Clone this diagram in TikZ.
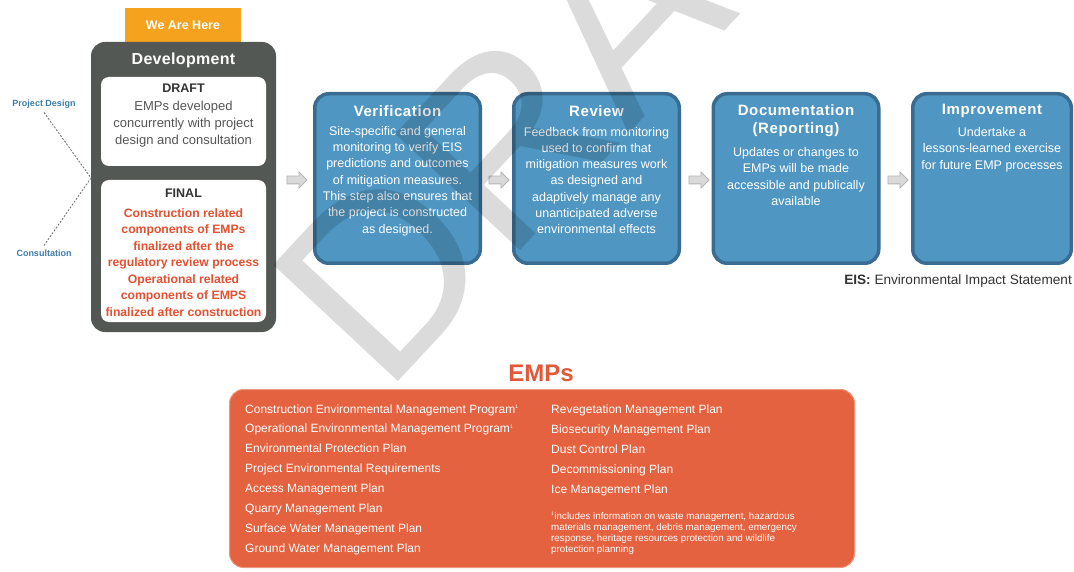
\documentclass[tikz,border=0pt]{standalone}
\usepackage{fontspec}
\setmainfont{Liberation Sans}
\usetikzlibrary{shapes.arrows}
\definecolor{bluefill}{RGB}{79,151,194}
\definecolor{blueline}{RGB}{58,108,145}
\definecolor{devgray}{RGB}{84,88,84}
\definecolor{herebg}{RGB}{245,162,30}
\definecolor{redtext}{RGB}{228,80,48}
\definecolor{coral}{RGB}{229,98,64}
\definecolor{coralline}{RGB}{240,150,125}
\definecolor{empstitle}{RGB}{226,88,56}
\definecolor{labelblue}{RGB}{60,125,170}
\definecolor{darktext}{RGB}{51,51,51}
\definecolor{graytext}{RGB}{85,85,85}
\definecolor{arrowfill}{RGB}{218,218,218}
\definecolor{arrowline}{RGB}{180,180,180}
\definecolor{dashgray}{RGB}{120,120,120}
\tikzset{
  bluebox/.style={draw=blueline, fill=bluefill, line width=3.5pt, rounded corners=14pt,
    minimum width=165.5pt, minimum height=169.5pt, inner sep=0pt},
  whitebox/.style={fill=white, rounded corners=8pt, minimum width=165pt, inner sep=0pt},
  txt/.style={inner sep=0pt, align=center},
  steptitle/.style={txt, text=white, font=\fontsize{15}{18}\selectfont\bfseries\addfontfeature{LetterSpace=4}},
  stepbody/.style={txt, text=white, font=\fontsize{12.5}{16.3}\selectfont},
  arr/.style={single arrow, draw=arrowline, fill=arrowfill, line width=0.9pt,
    minimum height=20pt, single arrow head extend=4pt, inner xsep=0pt, inner ysep=3.5pt},
  sidelabel/.style={inner sep=0pt, text=labelblue, font=\fontsize{9}{10}\selectfont\bfseries},
  dashline/.style={draw=dashgray, line width=0.9pt, dash pattern=on 2pt off 1.5pt},
  emplist/.style={inner sep=0pt, align=left, anchor=west, text=white},
  wm/.style={inner sep=0pt, text=black, text opacity=0.14, font=\fontsize{248}{248}\selectfont}
}
\begin{document}
\begin{tikzpicture}[x=1pt,y=-1pt]
\useasboundingbox (0,0) rectangle (1074,572);
\fill[white] (0,0) rectangle (1074,572);

% Development column
\node[fill=herebg, minimum width=116pt, minimum height=34pt, inner sep=0pt,
  text=white, font=\fontsize{12.5}{14}\selectfont\bfseries] (here) at (183,25) {We Are Here};
\node[fill=devgray, rounded corners=14pt, minimum width=185pt, minimum height=290pt, inner sep=0pt] (dev) at (183.5,187) {};
\node[txt, text=white, font=\fontsize{16}{18}\selectfont\bfseries\addfontfeature{LetterSpace=2}] (devt) at (183.5,60) {Development};
\node[whitebox, minimum height=89pt] (draftbox) at (183.5,121.5) {};
\node[whitebox, minimum height=142pt] (finalbox) at (183.5,251) {};
\node[txt, text=darktext, font=\fontsize{12.5}{14}\selectfont\bfseries] (draftt) at (183.5,88) {DRAFT};
\node[txt, text=graytext, font=\fontsize{13}{17}\selectfont] (draftb) at (183.5,124) {EMPs developed\\concurrently with project\\design and consultation};
\node[txt, text=darktext, font=\fontsize{12.5}{14}\selectfont\bfseries] (finalt) at (183.5,193) {FINAL};
\node[txt, text=redtext, font=\fontsize{12.2}{16.5}\selectfont\bfseries] (finalb) at (183.5,262.5) {Construction related\\components of EMPs\\finalized after the\\regulatory review process\\Operational related\\components of EMPS\\finalized after construction};

% side labels
\node[sidelabel] (pd) at (44,104) {Project Design};
\node[sidelabel] (cons) at (44,253) {Consultation};
\coordinate (j) at (91,178);
\draw[dashline] ([yshift=-4pt]pd.south) -- (j) -- ([yshift=4pt]cons.north);

% process steps
\node[bluebox] (ver) at (397.5,178.5) {};
\node[bluebox] (rev) at (596.5,178.5) {};
\node[bluebox] (doc) at (796,178.5) {};
\node[bluebox, minimum width=158.5pt] (imp) at (992,178.5) {};

\node[steptitle] (vert) at (397.5,111) {Verification};
\node[stepbody] (verb) at (397.5,181) {Site-specific and general\\monitoring to verify EIS\\predictions and outcomes\\of mitigation measures.\\This step also ensures that\\the project is constructed\\as designed.};
\node[steptitle] (revt) at (596.5,111) {Review};
\node[stepbody] (revb) at (596.5,180.5) {Feedback from monitoring\\used to confirm that\\mitigation measures work\\as designed and\\adaptively manage any\\unanticipated adverse\\environmental effects};
\node[steptitle, font=\fontsize{15}{17.5}\selectfont\bfseries\addfontfeature{LetterSpace=4}] (doct) at (796,120.5) {Documentation\\(Reporting)};
\node[stepbody] (docb) at (796,176.5) {Updates or changes to\\EMPs will be made\\accessible and publically\\available};
\node[steptitle] (impt) at (992,111) {Improvement};
\node[stepbody] (impb) at (992,149.5) {Undertake a\\lessons-learned exercise\\for future EMP processes};

\node[arr] (a1) at (295,180) {};
\node[arr] (a2) at (497,180) {};
\node[arr] (a3) at (697,180) {};
\node[arr] (a4) at (896,180) {};

\node[inner sep=0pt, anchor=east, text=darktext, font=\fontsize{13.6}{15}\selectfont] (eis) at (1072,281) {\textbf{EIS:} Environmental Impact Statement};

% EMPs
\node[txt, text=empstitle, font=\fontsize{24}{26}\selectfont\bfseries] (empt) at (541,373) {EMPs};
\node[fill=coral, draw=coralline, line width=1pt, rounded corners=14pt, minimum width=625pt, minimum height=178pt, inner sep=0pt] (emps) at (542,478.5) {};
\node[emplist, font=\fontsize{12}{19.86}\selectfont] (empl) at (245,479.5) {Construction Environmental Management Program\textsuperscript{\tiny 1}\\Operational Environmental Management Program\textsuperscript{\tiny 1}\\Environmental Protection Plan\\Project Environmental Requirements\\Access Management Plan\\Quarry Management Plan\\Surface Water Management Plan\\Ground Water Management Plan};
\node[emplist, font=\fontsize{12}{20}\selectfont] (empr) at (551,450) {Revegetation Management Plan\\Biosecurity Management Plan\\Dust Control Plan\\Decommissioning Plan\\Ice Management Plan};
\node[emplist, font=\fontsize{9.8}{11}\selectfont] (empf) at (551,533.5) {\textsuperscript{\tiny 1}includes information on waste management, hazardous\\materials management, debris management, emergency\\response, heritage resources protection and wildlife\\protection planning};

% watermark
\node[wm, rotate=47, anchor=base west] (wmk) at (384,397) {DRAFT};
\end{tikzpicture}
\end{document}
